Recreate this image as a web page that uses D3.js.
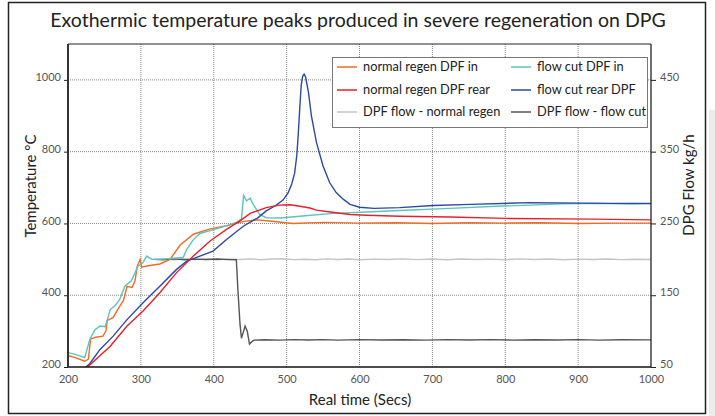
<!DOCTYPE html>
<html><head><meta charset="utf-8">
<script src="https://cdn.jsdelivr.net/npm/d3@7"></script>
<style>body{margin:0;background:#fff;}svg{display:block;font-family:Lato,"Open Sans",sans-serif;}</style>
</head><body><svg id="c" width="715" height="416"></svg>
<script>
const xTicks = [200,300,400,500,600,700,800,900,1000];
const yTicks = [200,400,600,800,1000];
const yRightTicks = [50,150,250,350,450];

const normalIn = [[200,232],[210,226],[223,216],[228,222],[231,278],[238,283],[248,286],[252,300],[254,330],[262,338],[270,366],[276,385],[281,425],[288,422],[292,440],[295,481],[299,500],[301,478],[310,482],[326,487],[340,500],[354,540],[372,570],[395,585],[418,594],[440,605],[460,610],[480,606],[509,600],[550,603],[600,601],[650,602],[700,600],[750,602],[800,601],[850,602],[900,600],[950,601],[1000,601]];
const normalRear = [[226,195],[228,202],[258,258],[281,314],[303,356],[326,407],[349,463],[372,509],[395,551],[418,584],[436,607],[450,628],[472,644],[490,651],[505,652],[518,648],[532,643],[541,637],[560,632],[587,625],[610,623],[655,620],[724,618],[801,614],[920,612],[1000,610]];
const cutIn = [[200,240],[210,235],[223,226],[230,277],[237,304],[244,314],[251,312],[258,360],[265,372],[271,388],[278,425],[287,440],[296,481],[303,491],[308,509],[315,500],[326,500],[345,503],[358,505],[363,528],[372,555],[381,572],[395,580],[418,594],[431,603],[438,612],[441,678],[445,663],[450,670],[455,650],[463,625],[472,616],[491,615],[518,620],[564,628],[610,632],[655,636],[724,642],[788,648],[834,651],[879,655],[925,656],[971,654],[1000,655]];
const cutRear = [[222,195],[230,210],[244,249],[262,286],[281,332],[303,379],[326,425],[349,472],[363,495],[381,509],[399,523],[418,556],[441,593],[460,615],[472,635],[485,650],[495,665],[502,685],[507,710],[511,740],[514,790],[516,850],[518,920],[520,985],[522,1010],[524,1016],[526,1008],[530,965],[534,900],[541,825],[550,760],[559,714],[568,686],[578,667],[587,653],[600,645],[620,642],[655,644],[701,650],[752,653],[834,658],[939,656],[1000,656]];
const flowNormal = [[318,200],[330,200.5],[345,199.5],[360,200.8],[375,199.6],[390,200.3],[405,199.4],[420,200.6],[435,199.8],[450,200.7],[465,199.5],[480,200.4],[495,200.9],[510,199.6],[525,200.2],[540,199.4],[555,200.6],[570,199.8],[585,200.5],[600,199.5],[620,200.3],[640,199.7],[660,200.6],[680,199.6],[700,200.4],[720,199.5],[740,200.5],[760,199.7],[780,200.3],[800,199.5],[820,200.6],[840,199.8],[860,200.4],[880,199.5],[900,200.3],[920,199.7],[940,200.5],[960,199.6],[980,200.2],[1000,199.8]];
const flowCut = [[318,200],[330,199.5],[345,200.6],[360,199.4],[375,200.3],[390,199.7],[405,200.5],[420,199.6],[431,199.5],[433,160],[436,110],[438,90],[441,100],[443,107],[446,100],[449,82],[452,85],[455,87.5],[470,88],[490,87.4],[510,88.2],[530,87.6],[550,88.1],[570,87.5],[600,88.2],[630,87.6],[660,88],[690,87.4],[720,88.1],[750,87.6],[780,88.2],[810,87.5],[840,88],[870,87.6],[900,88.1],[930,87.5],[960,88],[1000,87.8]];

const seriesNames = ["normal regen DPF in","flow cut DPF in","normal regen DPF rear","flow cut rear DPF","DPF flow - normal regen","DPF flow - flow cut"];
const seriesColors = ["#f26a24","#5cc3bd","#e6202b","#2c49a0","#c4c4c4","#555555"];

const svg = d3.select("#c");
const L=68,R=651,T=44,B=367;
const x = d3.scaleLinear().domain([200,1000]).range([L,R]);
const y = d3.scaleLinear().domain([200,1100]).range([B,T]);
const y2 = d3.scaleLinear().domain([50,500]).range([B,T]);

// outer frame & shadow
svg.append("rect").attr("x",709).attr("y",110).attr("width",6).attr("height",306).attr("fill","#ececec");
svg.append("rect").attr("x",8.5).attr("y",2.5).attr("width",697).attr("height",411).attr("fill","#fff").attr("stroke","#222").attr("stroke-width",1.5);

svg.append("text").attr("x",358).attr("y",27).attr("text-anchor","middle").attr("font-size",19.5).attr("fill","#222").text("Exothermic temperature peaks produced in severe regeneration on DPG");

const g = svg.append("g");
// grid
g.selectAll(".vg").data(xTicks.slice(1,-1)).join("line").attr("x1",d=>x(d)).attr("x2",d=>x(d)).attr("y1",T).attr("y2",B).attr("stroke","#888").attr("stroke-dasharray","1,1");
g.selectAll(".hg").data(yTicks.slice(1)).join("line").attr("x1",L).attr("x2",R).attr("y1",d=>y(d)).attr("y2",d=>y(d)).attr("stroke","#888").attr("stroke-dasharray","1,1");

// lines
const clip = svg.append("clipPath").attr("id","pc").append("rect").attr("x",L).attr("y",T).attr("width",R-L).attr("height",B-T);
const lt = d3.line().x(d=>x(d[0])).y(d=>y(d[1]));
const lf = d3.line().x(d=>x(d[0])).y(d=>y2(d[1]));
const lg = svg.append("g").attr("clip-path","url(#pc)");
const draw=(data,gen,col)=>lg.append("path").datum(data).attr("d",gen).attr("fill","none").attr("stroke",col).attr("stroke-width",1.4);
draw(flowNormal,lf,seriesColors[4]);
draw(flowCut,lf,seriesColors[5]);
draw(normalIn,lt,seriesColors[0]);
draw(cutIn,lt,seriesColors[1]);
draw(cutRear,lt,seriesColors[3]);
draw(normalRear,lt,seriesColors[2]);

// frame
svg.append("line").attr("x1",L).attr("x2",R).attr("y1",T).attr("y2",T).attr("stroke","#222");
svg.append("line").attr("x1",L).attr("x2",R).attr("y1",B).attr("y2",B).attr("stroke","#111").attr("stroke-width",1.5);
svg.append("line").attr("x1",L).attr("x2",L).attr("y1",T).attr("y2",B).attr("stroke","#333").attr("stroke-width",2);
svg.append("line").attr("x1",R).attr("x2",R).attr("y1",T).attr("y2",B).attr("stroke","#111").attr("stroke-width",1.2);

// axes
const ax = svg.append("g").attr("transform",`translate(0,${B})`).call(d3.axisBottom(x).tickValues(xTicks).tickSize(0).tickPadding(8).tickFormat(d3.format("d")));
ax.select(".domain").remove();
const ay = svg.append("g").attr("transform",`translate(${L},0)`).call(d3.axisLeft(y).tickValues(yTicks).tickSize(4).tickPadding(3).tickFormat(d3.format("d")));
ay.select(".domain").remove();
ay.selectAll(".tick text").attr("dy","0.05em");
const ay2 = svg.append("g").attr("transform",`translate(${R},0)`).call(d3.axisRight(y2).tickValues(yRightTicks).tickSize(5).tickPadding(4).tickFormat(d3.format("d")));
ay2.select(".domain").remove();
ay2.selectAll(".tick text").attr("dy","0.05em");
svg.selectAll(".tick text").attr("font-family","Lato,sans-serif").attr("font-size",11).attr("fill","#555");
svg.selectAll(".tick line").attr("stroke","#222");

svg.append("text").attr("x",360).attr("y",405).attr("text-anchor","middle").attr("font-size",15).attr("fill","#222").text("Real time (Secs)");
svg.append("text").attr("transform","translate(36,186) rotate(-90)").attr("text-anchor","middle").attr("font-size",15).attr("fill","#222").text("Temperature °C");
svg.append("text").attr("transform","translate(694,185) rotate(-90)").attr("text-anchor","middle").attr("font-size",15).attr("fill","#222").text("DPG Flow kg/h");

// legend
const lgd = svg.append("g");
lgd.append("rect").attr("x",332.5).attr("y",57.5).attr("width",315).attr("height",70).attr("fill","#fff").attr("stroke","#777");
const colX=[337,511], rowY=[67,90,112];
seriesNames.forEach((n,i)=>{
  const cx=colX[i%2], cy=rowY[Math.floor(i/2)];
  lgd.append("line").attr("x1",cx).attr("x2",cx+20).attr("y1",cy).attr("y2",cy).attr("stroke",seriesColors[i]).attr("stroke-width",1.5);
  lgd.append("text").attr("x",cx+26).attr("y",cy).attr("dy","0.35em").attr("font-size",12.8).attr("fill","#222").text(n);
});
</script></body></html>
